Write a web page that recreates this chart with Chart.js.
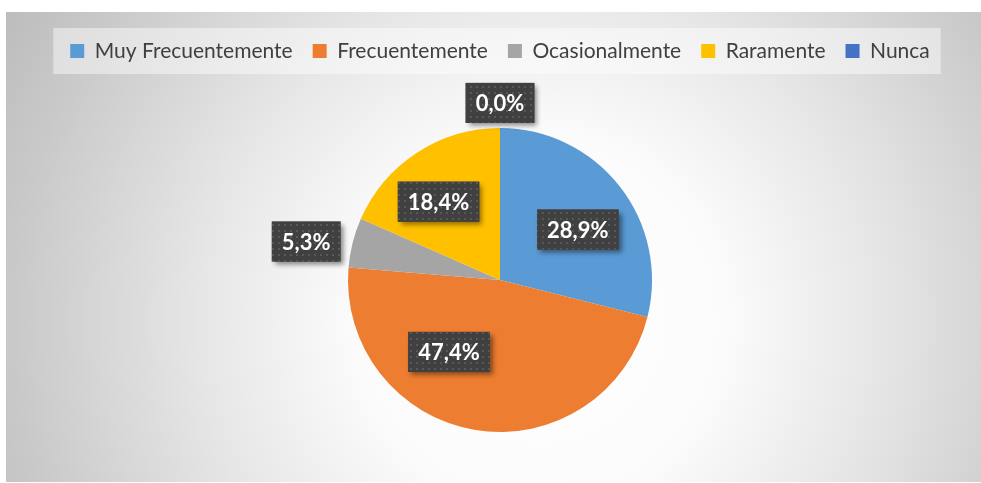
<!DOCTYPE html>
<html>
<head>
<meta charset="utf-8">
<script src="https://cdn.jsdelivr.net/npm/chart.js@4.4.0/dist/chart.umd.min.js"></script>
<style>
  html, body { margin: 0; padding: 0; background: #fff; }
</style>
</head>
<body>
<canvas id="myPieChart" width="981" height="483"></canvas>
<script>
const categories = ['Muy Frecuentemente', 'Frecuentemente', 'Ocasionalmente', 'Raramente', 'Nunca'];
const percentValues = [28.9, 47.4, 5.3, 18.4, 0.0];
const sliceColors = ['#5B9BD5', '#ED7D31', '#A5A5A5', '#FFC000', '#4472C4'];

function fmtPct(v) {
    return v.toFixed(1).replace('.', ',') + '%';
}

// dotted dark fill used by the data label boxes
function makeDotPattern(ctx) {
    const c = document.createElement('canvas');
    c.width = 6; c.height = 6;
    const p = c.getContext('2d');
    p.fillStyle = '#404040';
    p.fillRect(0, 0, 6, 6);
    p.fillStyle = '#585858';
    p.fillRect(2, 2, 2, 2);
    return ctx.createPattern(c, 'repeat');
}

const backgroundPlugin = {
    id: 'bg',
    beforeDraw(chart) {
        const ctx = chart.ctx;
        ctx.save();
        ctx.fillStyle = '#ffffff';
        ctx.fillRect(0, 0, chart.width, chart.height);
        const g = ctx.createRadialGradient(540, 320, 0, 540, 320, 620);
        g.addColorStop(0, '#ffffff');
        g.addColorStop(0.3, '#fbfbfb');
        g.addColorStop(0.55, '#e6e6e6');
        g.addColorStop(0.85, '#c9c9c9');
        g.addColorStop(1, '#bcbcbc');
        ctx.fillStyle = g;
        ctx.fillRect(6, 12, chart.width - 6, chart.height - 13);

        // light panel behind the legend
        const lg = chart.legend;
        if (lg && lg.legendHitBoxes && lg.legendHitBoxes.length) {
            const hb = lg.legendHitBoxes;
            const x0 = hb[0].left - 17;
            const last = hb[hb.length - 1];
            const x1 = last.left + last.width + 11;
            const cy = hb[0].top + hb[0].height / 2;
            ctx.fillStyle = 'rgba(255,255,255,0.45)';
            ctx.fillRect(x0, cy - 23, x1 - x0, 46);
        }
        ctx.restore();
    }
};

const labelPlugin = {
    id: 'pctLabels',
    afterDatasetsDraw(chart) {
        const ctx = chart.ctx;
        const meta = chart.getDatasetMeta(0);
        const radiusFrac = [0.61, 0.58, 1.30, 0.655, 1.165];
        const angleShift = [5, 26, -3, -5, 0];
        const pattern = makeDotPattern(ctx);
        ctx.save();
        ctx.font = 'bold 22px Lato';
        meta.data.forEach((arc, i) => {
            const mid = (arc.startAngle + arc.endAngle) / 2 + angleShift[i] * Math.PI / 180;
            const r = arc.outerRadius * radiusFrac[i];
            const cx = arc.x + Math.cos(mid) * r;
            const cy = arc.y + Math.sin(mid) * r;
            const text = fmtPct(percentValues[i]);
            const w = ctx.measureText(text).width + 20;
            const h = 40;
            ctx.save();
            ctx.shadowColor = 'rgba(0,0,0,0.45)';
            ctx.shadowBlur = 5;
            ctx.shadowOffsetX = 3;
            ctx.shadowOffsetY = 3;
            ctx.fillStyle = '#404040';
            ctx.fillRect(cx - w / 2, cy - h / 2, w, h);
            ctx.restore();
            ctx.fillStyle = pattern;
            ctx.fillRect(cx - w / 2, cy - h / 2, w, h);
            ctx.fillStyle = '#ffffff';
            ctx.textAlign = 'center';
            ctx.textBaseline = 'middle';
            ctx.fillText(text, cx, cy + 1);
        });
        ctx.restore();
    }
};

const ctx = document.getElementById('myPieChart').getContext('2d');
new Chart(ctx, {
    type: 'pie',
    data: {
        labels: categories,
        datasets: [{
            data: percentValues,
            backgroundColor: sliceColors,
            borderWidth: 0
        }]
    },
    options: {
        responsive: false,
        animation: false,
        devicePixelRatio: 1,
        layout: {
            padding: { top: 20.5, left: 19, right: 0, bottom: 51 }
        },
        plugins: {
            legend: {
                position: 'top',
                labels: {
                    font: { family: 'Lato', size: 21 },
                    color: '#404040',
                    boxWidth: 14,
                    boxHeight: 14,
                    padding: 20
                }
            },
            title: {
                display: true,
                text: ' ',
                weight: 500,
                font: { size: 1 },
                padding: { top: 55.3, bottom: 0 }
            },
            tooltip: { enabled: false }
        }
    },
    plugins: [backgroundPlugin, labelPlugin]
});
</script>
</body>
</html>
